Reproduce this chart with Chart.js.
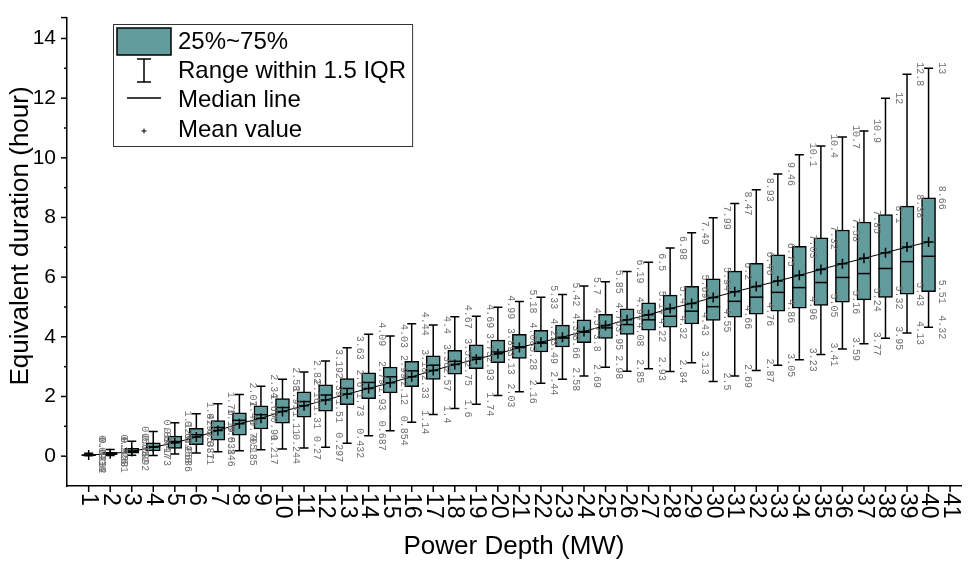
<!DOCTYPE html>
<html>
<head>
<meta charset="utf-8">
<script src="https://cdn.jsdelivr.net/npm/chart.js@4"></script>
<style>
  html, body { margin: 0; padding: 0; background: #fff; }
</style>
</head>
<body>
<canvas id="chart" width="969" height="565"></canvas>
<script>
const depths = [1, 2, 3, 4, 5, 6, 7, 8, 9, 10, 11, 12, 13, 14, 15, 16, 17, 18, 19, 20,
  21, 22, 23, 24, 25, 26, 27, 28, 29, 30, 31, 32, 33, 34, 35, 36, 37, 38, 39, 40];
const whiskerMin = [0.01, 0.02, 0.03, 0.02, 0.0686, 0.11, 0.146, 0.185, 0.217, 0.244,
  0.27, 0.297, 0.432, 0.687, 0.854, 1.14, 1.4, 1.6, 1.74, 2.03,
  2.16, 2.44, 2.58, 2.69, 2.98, 2.85, 2.93, 2.84, 3.13, 2.5,
  2.69, 2.87, 3.05, 3.23, 3.41, 3.59, 3.77, 3.95, 4.13, 4.32];
const q1 = [0.0232, 0.0501, 0.0992, 0.173, 0.258, 0.387, 0.538, 0.705, 0.91, 1.11,
  1.31, 1.51, 1.73, 1.93, 2.12, 2.33, 2.57, 2.75, 2.93, 3.13,
  3.28, 3.49, 3.66, 3.8, 3.95, 4.08, 4.22, 4.32, 4.43, 4.55,
  4.66, 4.76, 4.86, 4.96, 5.05, 5.16, 5.24, 5.32, 5.43, 5.51];
const medianVals = [0.035, 0.09, 0.17, 0.32, 0.49, 0.72, 0.96, 1.2, 1.39, 1.63,
  1.83, 2.05, 2.27, 2.47, 2.66, 2.86, 3.05, 3.18, 3.31, 3.49,
  3.66, 3.79, 3.96, 4.16, 4.3, 4.41, 4.57, 4.69, 4.86, 5.01,
  5.19, 5.33, 5.49, 5.65, 5.82, 5.99, 6.12, 6.29, 6.52, 6.7];
const q3 = [0.0414, 0.128, 0.262, 0.447, 0.674, 0.935, 1.19, 1.45, 1.69, 1.93,
  2.16, 2.39, 2.6, 2.79, 2.99, 3.18, 3.36, 3.55, 3.73, 3.89,
  4.08, 4.22, 4.39, 4.57, 4.75, 4.94, 5.14, 5.4, 5.69, 5.94,
  6.2, 6.46, 6.75, 7.03, 7.32, 7.58, 7.85, 8.1, 8.38, 8.66];
const whiskerMax = [0.0936, 0.226, 0.503, 0.83, 1.12, 1.42, 1.76, 2.07, 2.34, 2.58,
  2.82, 3.19, 3.63, 4.09, 4.03, 4.44, 4.4, 4.67, 4.69, 4.99,
  5.18, 5.33, 5.42, 5.7, 5.85, 6.19, 6.5, 6.98, 7.49, 7.99,
  8.47, 8.93, 9.46, 10.1, 10.4, 10.7, 10.9, 12, 12.8, 13];
const meanVals = [0.035, 0.085, 0.16, 0.3, 0.45, 0.64, 0.86, 1.09, 1.27, 1.5,
  1.69, 1.88, 2.08, 2.27, 2.46, 2.66, 2.87, 3.07, 3.25, 3.43,
  3.64, 3.82, 3.99, 4.18, 4.38, 4.57, 4.74, 4.95, 5.12, 5.32,
  5.51, 5.69, 5.87, 6.06, 6.26, 6.45, 6.63, 6.82, 7.01, 7.18];
const xTickLabels = [1, 2, 3, 4, 5, 6, 7, 8, 9, 10, 11, 12, 13, 14, 15, 16, 17, 18, 19, 20,
  21, 22, 23, 24, 25, 26, 27, 28, 29, 30, 31, 32, 33, 34, 35, 36, 37, 38, 39, 40, 41];
const yTickLabels = [0, 2, 4, 6, 8, 10, 12, 14];
const legendItems = ["25%~75%", "Range within 1.5 IQR", "Median line", "Mean value"];

const boxFill = "#639c9c";
const sans = "Liberation Sans";

function fmt(v) {
  return String(parseFloat(v.toPrecision(3)));
}

function vText(ctx, text, x, y, angle) {
  ctx.save();
  ctx.translate(x, y);
  ctx.rotate(angle);
  ctx.fillText(text, 0, 0);
  ctx.restore();
}

const boxPlugin = {
  id: "boxExtras",
  beforeDatasetsDraw(chart) {
    const { ctx, scales: { x, y } } = chart;
    ctx.save();
    ctx.strokeStyle = "#000";
    ctx.lineWidth = 1.5;
    depths.forEach((d, i) => {
      const px = x.getPixelForValue(d);
      const yMax = y.getPixelForValue(whiskerMax[i]);
      const yMin = y.getPixelForValue(whiskerMin[i]);
      ctx.beginPath();
      ctx.moveTo(px, yMax);
      ctx.lineTo(px, yMin);
      ctx.moveTo(px - 4.5, yMax);
      ctx.lineTo(px + 4.5, yMax);
      ctx.moveTo(px - 4.5, yMin);
      ctx.lineTo(px + 4.5, yMin);
      ctx.stroke();
    });
    ctx.restore();
  },
  afterDatasetDraw(chart, args) {
    if (args.meta.type !== "bar") return;
    const { ctx, scales: { x, y } } = chart;
    ctx.save();
    ctx.strokeStyle = "#000";
    ctx.lineWidth = 1.5;
    depths.forEach((d, i) => {
      const px = x.getPixelForValue(d);
      const py = y.getPixelForValue(medianVals[i]);
      ctx.beginPath();
      ctx.moveTo(px - 7, py);
      ctx.lineTo(px + 7, py);
      ctx.stroke();
    });
    ctx.restore();
  },
  afterDatasetsDraw(chart) {
    // grey value labels beside each box
    const { ctx, scales: { x, y } } = chart;
    ctx.save();
    ctx.fillStyle = "#707070";
    ctx.font = "10px 'Liberation Mono'";
    ctx.textAlign = "center";
    ctx.textBaseline = "middle";
    depths.forEach((d, i) => {
      const px = x.getPixelForValue(d) + 13;
      vText(ctx, fmt(whiskerMax[i]), px, y.getPixelForValue(whiskerMax[i]), Math.PI / 2);
      vText(ctx, fmt(q3[i]), px, y.getPixelForValue(q3[i]), Math.PI / 2);
      vText(ctx, fmt(q1[i]), px, y.getPixelForValue(q1[i]), Math.PI / 2);
      const gap = y.getPixelForValue(whiskerMin[i]) - y.getPixelForValue(q1[i]);
      if (gap > 5) {
        vText(ctx, fmt(whiskerMin[i]), px, y.getPixelForValue(whiskerMin[i]), Math.PI / 2);
      }
    });
    ctx.restore();
  },
  afterDraw(chart) {
    const { ctx, scales: { x, y }, chartArea } = chart;
    ctx.save();
    ctx.strokeStyle = "#000";
    ctx.lineWidth = 1.5;
    // y ticks (major on even values, minor on odd), plus a stub at the axis end
    y.ticks.forEach((t) => {
      if (t.value <= -1) return;
      const py = y.getPixelForValue(t.value);
      const minor = t.value % 2 !== 0;
      ctx.beginPath();
      ctx.moveTo(chartArea.left, py);
      ctx.lineTo(chartArea.left - (minor ? 3 : 6), py);
      ctx.stroke();
    });
    ctx.beginPath();
    ctx.moveTo(chartArea.left, chartArea.top);
    ctx.lineTo(chartArea.left - 6, chartArea.top);
    ctx.stroke();
    // x ticks + labels
    ctx.fillStyle = "#000";
    ctx.font = "23px '" + sans + "'";
    ctx.textAlign = "left";
    ctx.textBaseline = "middle";
    xTickLabels.forEach((v) => {
      const px = x.getPixelForValue(v);
      ctx.beginPath();
      ctx.moveTo(px, chartArea.bottom);
      ctx.lineTo(px, chartArea.bottom + 6);
      ctx.stroke();
      vText(ctx, String(v), px, chartArea.bottom + 7, Math.PI / 2);
    });
    // y title
    ctx.font = "26px '" + sans + "'";
    ctx.textAlign = "center";
    vText(ctx, "Equivalent duration (hour)", 21, 236, -Math.PI / 2);

    // legend
    ctx.font = "24px '" + sans + "'";
    ctx.textAlign = "left";
    const textX = 178;
    const w = Math.max(...legendItems.map((s) => ctx.measureText(s).width));
    ctx.lineWidth = 1;
    ctx.strokeStyle = "#333";
    ctx.strokeRect(113.5, 24.5, textX + w + 6 - 113, 122);
    ctx.fillStyle = boxFill;
    ctx.fillRect(117, 28, 54, 27);
    ctx.strokeStyle = "#000";
    ctx.lineWidth = 1.5;
    ctx.strokeRect(117, 28, 54, 27);
    ctx.beginPath();
    ctx.moveTo(144, 59); ctx.lineTo(144, 82);
    ctx.moveTo(137, 59); ctx.lineTo(151, 59);
    ctx.moveTo(137, 82); ctx.lineTo(151, 82);
    ctx.moveTo(127, 98); ctx.lineTo(161, 98);
    ctx.stroke();
    ctx.lineWidth = 1;
    ctx.beginPath();
    ctx.moveTo(141.5, 131); ctx.lineTo(146.5, 131);
    ctx.moveTo(144, 128.5); ctx.lineTo(144, 133.5);
    ctx.stroke();
    ctx.fillStyle = "#000";
    const rowsY = [42, 71, 100, 130];
    legendItems.forEach((s, i) => ctx.fillText(s, textX, rowsY[i]));
    ctx.restore();
  }
};

new Chart(document.getElementById("chart"), {
  data: {
    datasets: [
      {
        type: "line",
        label: "Mean value",
        data: depths.map((d, i) => ({ x: d, y: meanVals[i] })),
        borderColor: "#000",
        borderWidth: 1,
        pointStyle: "cross",
        pointRadius: 5,
        pointBorderWidth: 1.5,
        pointBorderColor: "#000",
        fill: false,
        tension: 0,
      },
      {
        type: "bar",
        label: "25%~75%",
        data: depths.map((d, i) => ({ x: d, y: [q1[i], q3[i]] })),
        backgroundColor: boxFill,
        borderColor: "#000",
        borderWidth: 1.5,
        borderSkipped: false,
        barThickness: 14,
      },
    ],
  },
  options: {
    responsive: false,
    animation: false,
    layout: { padding: { top: 14, right: 8, left: 0, bottom: 0 } },
    plugins: { legend: { display: false }, tooltip: { enabled: false } },
    scales: {
      x: {
        type: "linear",
        min: 0.5,
        max: 41,
        ticks: { display: false, stepSize: 1 },
        grid: { display: false },
        border: { display: true, color: "#000", width: 1.5 },
        title: {
          display: true,
          text: "Power Depth (MW)",
          color: "#000",
          font: { family: sans, size: 26 },
          padding: { top: 0, bottom: 3 },
        },
        afterFit(s) { s.height = 79; },
      },
      y: {
        type: "linear",
        min: -1,
        max: 14.7,
        ticks: {
          stepSize: 1,
          includeBounds: false,
          autoSkip: false,
          color: "#000",
          font: { family: sans, size: 21 },
          padding: 5,
          callback: (v) => (yTickLabels.includes(v) ? String(v) : ""),
        },
        grid: {
          display: true,
          drawOnChartArea: false,
          drawTicks: true,
          tickLength: 6,
          color: "rgba(0,0,0,0)",
        },
        border: { display: true, color: "#000", width: 1.5 },
        afterFit(s) { s.width = 67; },
      },
    },
  },
  plugins: [boxPlugin],
});
</script>
</body>
</html>
